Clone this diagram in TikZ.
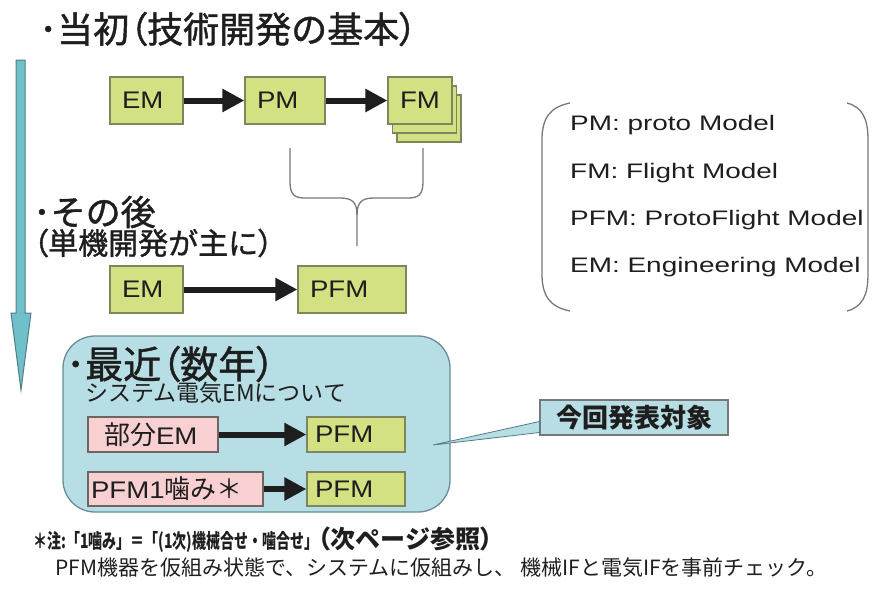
\documentclass[tikz,border=0pt]{standalone}
\usepackage{fontspec}
\usetikzlibrary{arrows.meta}
\setmainfont{Liberation Sans}
\newfontfamily\jp{Noto Sans CJK JP}
\newfontfamily\jph[FakeBold=1.2]{Noto Sans CJK JP}
\newfontfamily\jpc[FakeStretch=0.7]{Noto Sans CJK JP}
\newfontfamily\lat[FakeStretch=1.15]{Liberation Sans}
\newfontfamily\leg[FakeStretch=1.33]{Liberation Sans}
\newcommand\LP{{\addfontfeatures{RawFeature=+palt}（}}
\newcommand\RP{{\addfontfeatures{RawFeature=+palt}）}}
\newcommand\fs[1]{\fontsize{#1}{#1}\selectfont}
\definecolor{gfill}{RGB}{212,225,130}
\definecolor{gline}{RGB}{125,135,95}
\definecolor{pfill}{RGB}{248,208,210}
\definecolor{pline}{RGB}{110,100,100}
\definecolor{bfill}{RGB}{183,222,228}
\definecolor{bline}{RGB}{105,140,150}
\definecolor{afill}{RGB}{112,192,202}
\definecolor{aline}{RGB}{80,125,135}
\definecolor{brc}{RGB}{120,120,120}
\definecolor{ink}{RGB}{30,30,30}
\begin{document}
\begin{tikzpicture}[x=1pt,y=-1pt,
  every node/.style={text=ink},
  txt/.style={inner sep=0pt, anchor=west},
  gbox/.style={draw=gline, fill=gfill, line width=1.2pt, inner ysep=0pt, inner xsep=12pt, align=left, font=\lat\fs{24}},
  pbox/.style={draw=pline, fill=pfill, line width=1.2pt, inner ysep=0pt, align=left, font=\lat\fs{24}},
  flow/.style={line width=6pt, -{Triangle[length=22pt,width=22pt]}, ink},
  brk/.style={draw=brc, line width=1.3pt},
  legtxt/.style={inner sep=0pt, anchor=base west, font=\leg\fs{21}}
]
\path[use as bounding box] (0,0) rectangle (872,589);

% time arrow
\filldraw[fill=afill, draw=aline, line width=1pt]
  (16,60) -- (25,60) -- (25,313) -- (31,313) -- (21,390) -- (11,313) -- (16,313) -- cycle;

% titles
\node[txt] (t1) at (39,29) {\jph\fs{36}･当初\LP 技術開発の基本\RP};
\node[txt] (t2) at (33,212) {\jph\fs{35}･その後};
\node[txt] (t3) at (33,243) {\jph\fs{30}\LP 単機開発が主に\RP};

% row 1
\node[gbox, minimum width=73pt, minimum height=47pt, text width=49pt] (em1) at (146.5,100.5) {EM};
\node[gbox, minimum width=80pt, minimum height=47pt, text width=56pt] (pm1) at (285,100.5) {PM};
\node[gbox, minimum width=64pt, minimum height=47pt, text width=40pt] (fm3) at (429,118.5) {};
\node[gbox, minimum width=64pt, minimum height=47pt, text width=40pt] (fm2) at (424.5,109.5) {};
\node[gbox, minimum width=64pt, minimum height=47pt, text width=40pt] (fm1) at (420,100.5) {FM};
\draw[flow] (em1) -- (pm1);
\draw[flow] (pm1) -- (fm1);

% brace
\draw[brk] (290,148) -- (290,182) .. controls (290,195) and (295,198) .. (305,198) -- (340,198) .. controls (352,198) and (357,202) .. (357,215) -- (357,246);
\draw[brk] (423,148) -- (423,182) .. controls (423,195) and (418,198) .. (408,198) -- (374,198) .. controls (362,198) and (357,202) .. (357,215);

% row 2
\node[gbox, minimum width=73pt, minimum height=47pt, text width=49pt] (em2) at (146.5,289.5) {EM};
\node[gbox, minimum width=108pt, minimum height=47pt, text width=84pt] (pfm2) at (352,289.5) {PFM};
\draw[flow] (em2) -- (pfm2);

% legend
\draw[brk] (570,103) .. controls (550,107) and (542,118) .. (542,140) -- (542,274) .. controls (542,296) and (550,307) .. (570,311);
\draw[brk] (847,103) .. controls (862,107) and (868,118) .. (868,140) -- (868,274) .. controls (868,296) and (862,307) .. (847,311);
\node[legtxt] (l1) at (570,130) {PM: proto Model};
\node[legtxt] (l2) at (570,178) {FM: Flight Model};
\node[legtxt] (l3) at (570,225) {PFM: ProtoFlight Model};
\node[legtxt] (l4) at (570,272) {EM: Engineering Model};

% recent
\filldraw[fill=bfill, draw=bline, line width=1.3pt, rounded corners=32pt] (63,336) rectangle (450,512);
\node[txt] (t4) at (66,364) {\jph\fs{38}･最近\LP 数年\RP};
\node[txt] (t5) at (85,393) {\jp\fs{23}システム電気EMについて};

\node[pbox, minimum width=130pt, minimum height=35pt, inner xsep=16pt, text width=98pt] (pk1) at (153,434.5) {{\jp\fs{26}部分}EM};
\node[gbox, minimum width=98pt, minimum height=35pt, inner xsep=8pt, text width=82pt] (pf3) at (356,434.5) {PFM};
\node[pbox, minimum width=175pt, minimum height=34pt, inner xsep=3pt, text width=169pt] (pk2) at (175.5,489) {PFM1{\jp\fs{26}噛み＊}};
\node[gbox, minimum width=98pt, minimum height=34pt, inner xsep=8pt, text width=82pt] (pf4) at (356,489) {PFM};
\draw[flow] (pk1) -- (pf3);
\draw[flow] (pk2) -- (pf4);

% callout
\node[draw=brc, fill=bfill, line width=1.2pt, minimum width=188pt, minimum height=35pt, inner sep=0pt] (tgt) at (634,417.5) {\jp\bfseries\fs{26}今回発表対象};
\coordinate (tip) at (433,445);
\filldraw[fill=bfill, draw=aline, line width=0.8pt] (tip) -- ([yshift=-4pt]tgt.west) -- ([yshift=-15pt]tgt.west) -- cycle;

% notes
\node[txt] (n1) at (33,540) {\jpc\bfseries\fs{20}＊注:「1噛み」＝「(1次)機械合せ・噛合せ」{\jp\fs{25}\LP 次ページ参照\RP}};
\node[txt] (n2) at (55,568) {\jp\fs{21}PFM機器を仮組み状態で、システムに仮組みし、 機械IFと電気IFを事前チェック。};
\end{tikzpicture}
\end{document}
